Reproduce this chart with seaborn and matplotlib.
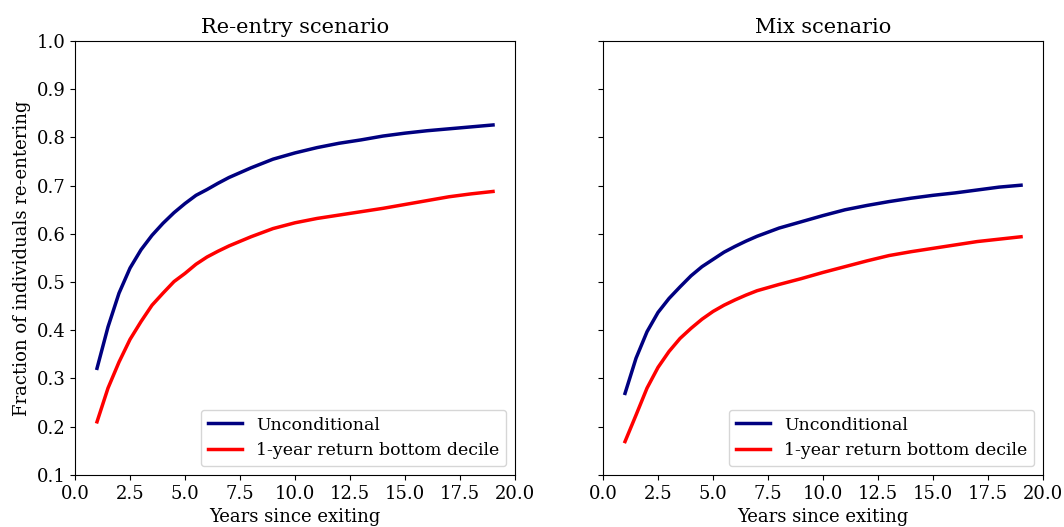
import pandas as pd
import seaborn as sns
import matplotlib
matplotlib.use("Agg")
import matplotlib.pyplot as plt

plt.rcParams["font.family"] = "DejaVu Serif"

years = [1, 1.5, 2, 2.5, 3, 3.5, 4, 4.5, 5, 5.5, 6, 6.5, 7,
         8, 9, 10, 11, 12, 13, 14, 15, 16, 17, 18, 19]

# re-entry scenario
reentry_uncond = [0.321, 0.407, 0.477, 0.529, 0.567, 0.597, 0.622, 0.644, 0.663, 0.680,
                  0.692, 0.705, 0.717, 0.737, 0.755, 0.768, 0.779, 0.788, 0.795, 0.803,
                  0.809, 0.814, 0.818, 0.822, 0.826]
reentry_bottom = [0.210, 0.280, 0.334, 0.381, 0.418, 0.452, 0.477, 0.501, 0.518, 0.537,
                  0.552, 0.564, 0.575, 0.594, 0.611, 0.623, 0.632, 0.639, 0.646, 0.653,
                  0.661, 0.669, 0.677, 0.683, 0.688]

# mix scenario
mix_uncond = [0.269, 0.342, 0.397, 0.437, 0.466, 0.490, 0.513, 0.532, 0.547, 0.562,
              0.574, 0.585, 0.595, 0.612, 0.625, 0.638, 0.650, 0.659, 0.667, 0.674,
              0.680, 0.685, 0.691, 0.697, 0.701]
mix_bottom = [0.169, 0.224, 0.280, 0.323, 0.356, 0.383, 0.404, 0.423, 0.439, 0.452,
              0.463, 0.473, 0.482, 0.495, 0.507, 0.520, 0.532, 0.544, 0.555, 0.563,
              0.570, 0.577, 0.584, 0.589, 0.594]

labels = ["Unconditional", "1-year return bottom decile"]
colors = {"Unconditional": "navy", "1-year return bottom decile": "red"}


def make_df(a, b):
    d1 = pd.DataFrame({"year": years, "frac": a, "group": labels[0]})
    d2 = pd.DataFrame({"year": years, "frac": b, "group": labels[1]})
    return pd.concat([d1, d2])


fig, axes = plt.subplots(1, 2, figsize=(10.64, 5.27), dpi=100, sharey=True)
plt.subplots_adjust(left=0.0705, right=0.9803, top=0.922, bottom=0.099, wspace=0.2)

panels = [("Re-entry scenario", reentry_uncond, reentry_bottom),
          ("Mix scenario", mix_uncond, mix_bottom)]

for ax, (title, a, b) in zip(axes, panels):
    df = make_df(a, b)
    sns.lineplot(data=df, x="year", y="frac", hue="group", palette=colors,
                 linewidth=2.5, ax=ax)
    ax.set_title(title, fontsize=15)
    ax.set_xlabel("Years since exiting", fontsize=13)
    ax.set_ylabel("Fraction of individuals re-entering", fontsize=13)
    ax.set_xlim(0, 20)
    ax.set_ylim(0.1, 1.0)
    ax.set_xticks([0, 2.5, 5, 7.5, 10, 12.5, 15, 17.5, 20])
    ax.set_yticks([0.1, 0.2, 0.3, 0.4, 0.5, 0.6, 0.7, 0.8, 0.9, 1.0])
    ax.tick_params(labelsize=13)
    ax.legend(loc="lower right", fontsize=12.5)

axes[1].yaxis.set_tick_params(labelleft=False)

plt.savefig("out.png", dpi=100)
